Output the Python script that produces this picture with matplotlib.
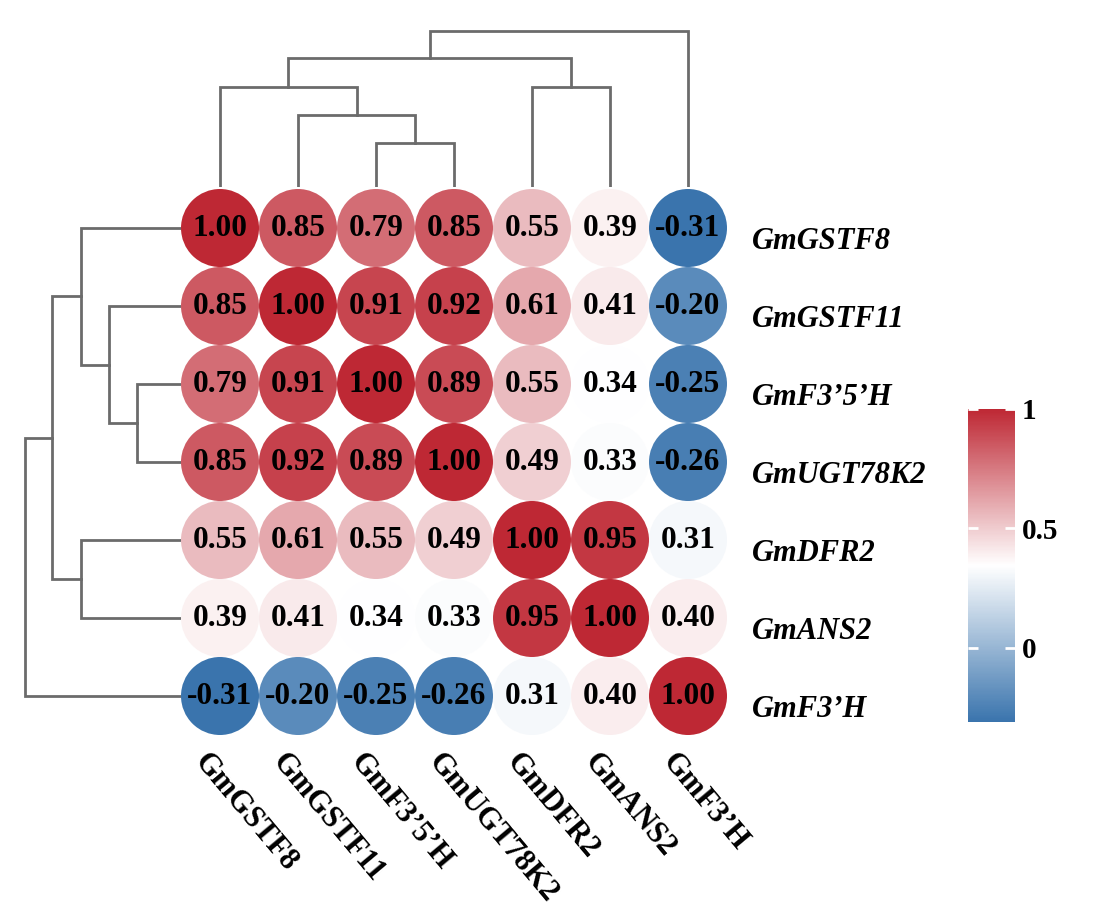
import numpy as np
import matplotlib
matplotlib.use("Agg")
import matplotlib.pyplot as plt
from matplotlib.patches import Circle
from matplotlib.colors import LinearSegmentedColormap, Normalize
from matplotlib.cm import ScalarMappable

plt.rcParams['font.family'] = ['Liberation Serif', 'DejaVu Serif']

# ---------------- data ----------------
genes = ["GmGSTF8", "GmGSTF11", "GmF3\u20195\u2019H", "GmUGT78K2", "GmDFR2", "GmANS2", "GmF3\u2019H"]
corr = np.array([
    [1.00, 0.85, 0.79, 0.85, 0.55, 0.39, -0.31],
    [0.85, 1.00, 0.91, 0.92, 0.61, 0.41, -0.20],
    [0.79, 0.91, 1.00, 0.89, 0.55, 0.34, -0.25],
    [0.85, 0.92, 0.89, 1.00, 0.49, 0.33, -0.26],
    [0.55, 0.61, 0.55, 0.49, 1.00, 0.95, 0.31],
    [0.39, 0.41, 0.34, 0.33, 0.95, 1.00, 0.40],
    [-0.31, -0.20, -0.25, -0.26, 0.31, 0.40, 1.00],
])
# dendrogram merges: (cluster_a, cluster_b, height); leaves are 0..6, new clusters 7..
merges = [
    (2, 3, 0.28),
    (1, 7, 0.46),
    (0, 8, 0.64),
    (4, 5, 0.64),
    (9, 10, 0.83),
    (11, 6, 1.00),
]
cbar_ticks = [0, 0.5, 1]
cbar_ticklabels = ["0", "0.5", "1"]

# ---------------- figure ----------------
W, H = 1093, 914
fig = plt.figure(figsize=(W / 100, H / 100), dpi=100)

def fax(x0, y0, x1, y1):
    """axes from pixel box (top-left origin)"""
    return fig.add_axes([x0 / W, 1 - y1 / H, (x1 - x0) / W, (y1 - y0) / H])

cmap = LinearSegmentedColormap.from_list("bwr_c", ["#3a74ad", "#ffffff", "#be2834"])
vmin, vmax = corr.min(), corr.max()
norm = Normalize(vmin=vmin, vmax=vmax)
n = len(genes)

# heatmap
ax = fax(181, 189, 727, 735)
ax.set_xlim(-0.5, n - 0.5)
ax.set_ylim(n - 0.5, -0.5)
ax.axis("off")
for i in range(n):
    for j in range(n):
        v = corr[i, j]
        ax.add_patch(Circle((j, i), 0.5, facecolor=cmap(norm(v)), edgecolor="none"))
        ax.text(j, i, f"{v:.2f}", ha="center", va="center", fontsize=22.5,
                fontweight="bold", color="black")
# row labels
for i, g in enumerate(genes):
    ax.text(n - 0.5 + 0.32, i + 0.17, g, ha="left", va="center", fontsize=22,
            fontweight="bold", fontstyle="italic", clip_on=False)
# column labels
for j, g in enumerate(genes):
    ax.text(j - 0.27, n - 0.5 + 0.28, g, ha="left", va="center", rotation=-50,
            rotation_mode="anchor", fontsize=22, fontweight="bold", clip_on=False)

# dendrogram geometry
def dendro_segments():
    pos = {k: float(k) for k in range(n)}
    hgt = {k: 0.0 for k in range(n)}
    segs = []
    for idx, (a, b, h) in enumerate(merges):
        new = n + idx
        segs.append(([pos[a], pos[a], pos[b], pos[b]], [hgt[a], h, h, hgt[b]]))
        pos[new] = (pos[a] + pos[b]) / 2
        hgt[new] = h
    return segs

segs = dendro_segments()
lc = "#6b6b6b"
lw = 2.0
scale_px = 156.0

# top dendrogram
axt = fax(181, 187 - 165, 727, 187)
axt.set_xlim(-0.5, n - 0.5)
axt.set_ylim(0, 165 / scale_px)
axt.axis("off")
for xs, ys in segs:
    axt.plot(xs, ys, color=lc, lw=lw, solid_capstyle="projecting", solid_joinstyle="miter")

# left dendrogram
axl = fax(181 - 170, 189, 181, 735)
axl.set_ylim(n - 0.5, -0.5)
axl.set_xlim(170 / scale_px, 0)
axl.axis("off")
for xs, ys in segs:
    axl.plot(ys, xs, color=lc, lw=lw, solid_capstyle="projecting", solid_joinstyle="miter")

# colorbar
cax = fax(968, 409, 1015, 722)
sm = ScalarMappable(norm=norm, cmap=cmap)
cb = fig.colorbar(sm, cax=cax)
cb.outline.set_visible(False)
cb.set_ticks(cbar_ticks)
cb.set_ticklabels(cbar_ticklabels)
cax.tick_params(axis="y", which="major", direction="in", length=7, width=2,
                color="white", left=True, right=True, labelsize=21, pad=5)
for t in cax.get_yticklabels():
    t.set_fontweight("bold")

fig.savefig("out.png", dpi=100, facecolor="white")
